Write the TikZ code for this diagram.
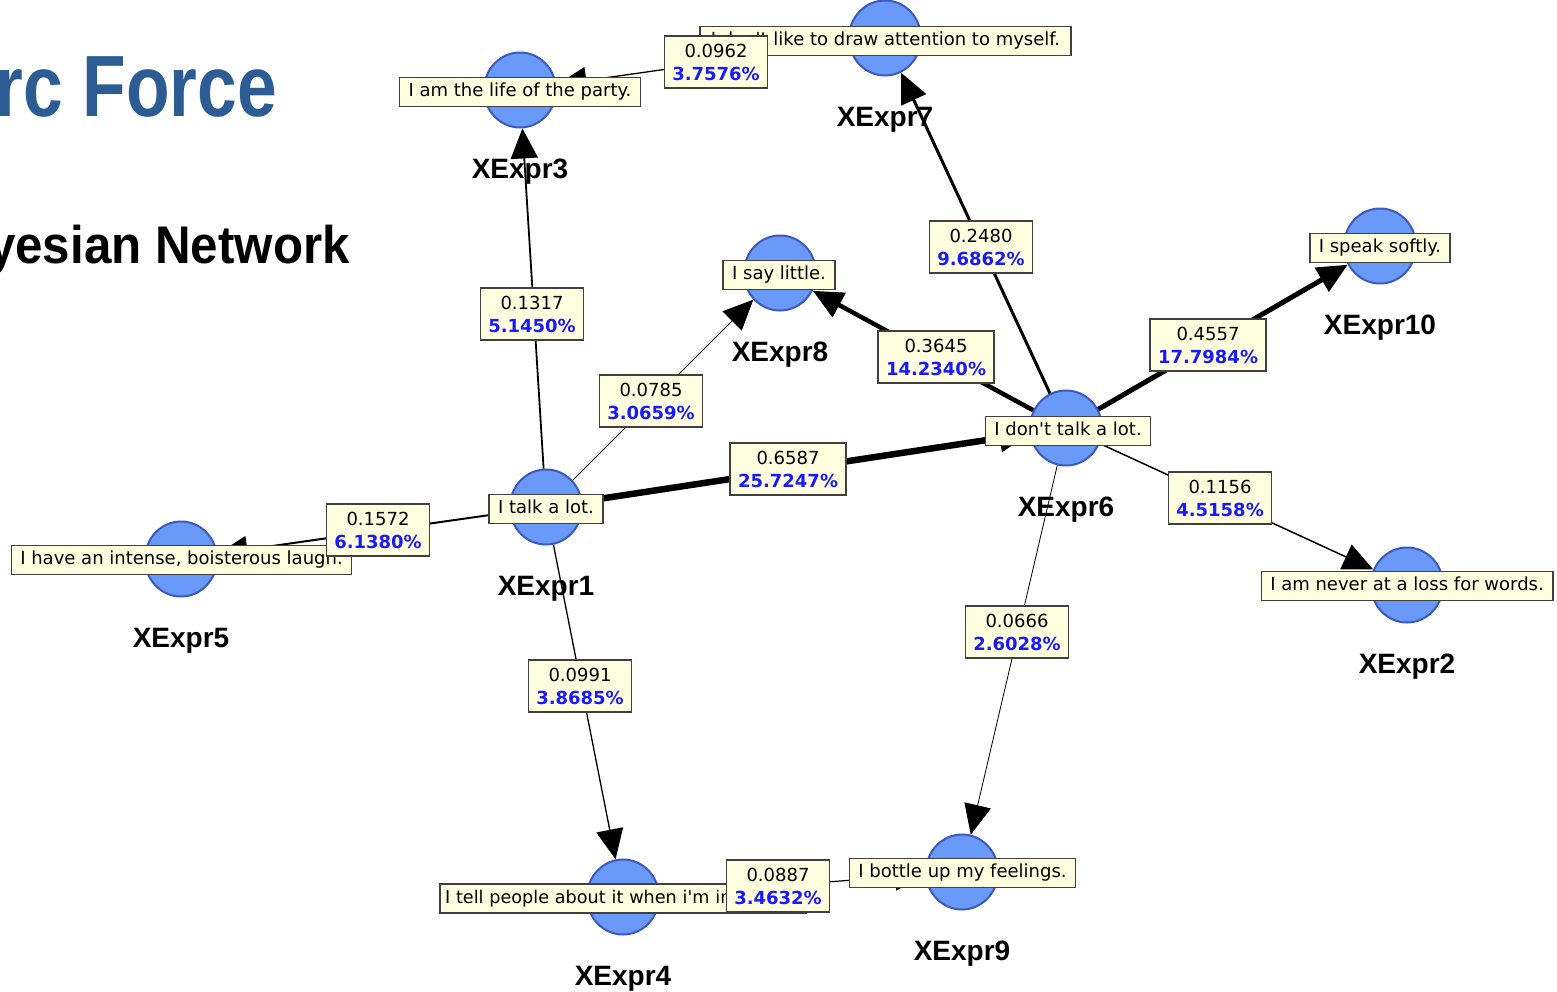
\documentclass[tikz,border=0pt]{standalone}
\usepackage{fontspec}
\usetikzlibrary{shapes.geometric,arrows.meta}

\newfontfamily\boxfont{DejaVu Sans}
\newfontfamily\capfont{Liberation Sans}
\newfontfamily\headfont[FakeStretch=0.82]{Liberation Sans}
\newfontfamily\subheadfont[FakeStretch=0.93]{Liberation Sans}

\definecolor{nodefill}{RGB}{105,153,249}
\definecolor{nodeedge}{RGB}{60,90,190}
\definecolor{boxfill}{RGB}{255,255,224}
\definecolor{boxedge}{RGB}{64,64,64}
\definecolor{pctblue}{RGB}{25,25,255}
\definecolor{titleblue}{RGB}{44,92,148}

\newcommand\pctval[1]{{\color{pctblue}\bfseries #1}}

\pgfdeclarelayer{captions}
\pgfdeclarelayer{boxes}
\pgfdeclarelayer{weights}
\pgfsetlayers{captions,main,boxes,weights}

\begin{document}
\begin{tikzpicture}[x=1pt,y=-1pt,
  bnode/.style={ellipse, draw=nodeedge, line width=2pt, fill=nodefill,
    minimum width=72pt, minimum height=75pt, inner sep=0pt},
  caption/.style={font=\capfont\bfseries\fontsize{28}{32}\selectfont, anchor=base},
  itembox/.style={draw=boxedge, line width=1.5pt, fill=boxfill,
    font=\boxfont\fontsize{18}{21}\selectfont, inner xsep=9pt, inner ysep=0pt,
    minimum height=29pt, text height=13.5pt, text depth=4pt},
  weightbox/.style={draw=boxedge, line width=1.5pt, fill=boxfill,
    font=\boxfont\fontsize{18}{23}\selectfont, align=center,
    inner xsep=5pt, inner ysep=5pt, minimum height=52pt, minimum width=103pt},
  link/.style={draw=black, -{Triangle[length=30pt,width=27pt]}}
]
\useasboundingbox (0,0) rectangle (1557,991);
\clip (0,0) rectangle (1557,991);

% slide headings, cut by the left edge
\node[font=\headfont\bfseries\fontsize{87}{90}\selectfont, text=titleblue,
  anchor=base east, inner sep=0pt] (head) at (277,116) {rc Force};
\node[font=\subheadfont\bfseries\fontsize{53}{56}\selectfont, text=black,
  anchor=base east, inner sep=0pt] (subhead) at (350,263) {yesian Network};

% network variables
\node[bnode] (n1)  at (546,507) {};
\node[bnode] (n2)  at (1407,585) {};
\node[bnode] (n3)  at (520,90) {};
\node[bnode] (n4)  at (623,897) {};
\node[bnode] (n5)  at (181,559) {};
\node[bnode] (n6)  at (1066,428) {};
\node[bnode] (n7)  at (885,38) {};
\node[bnode] (n8)  at (780,273) {};
\node[bnode] (n9)  at (962,872) {};
\node[bnode] (n10) at (1380,246) {};

% variable names under the nodes
\begin{pgfonlayer}{captions}
\node[caption] (c1)  at (546,595) {XExpr1};
\node[caption] (c2)  at (1407,673) {XExpr2};
\node[caption] (c3)  at (520,178) {XExpr3};
\node[caption] (c4)  at (623,985) {XExpr4};
\node[caption] (c5)  at (181,647) {XExpr5};
\node[caption] (c6)  at (1066,516) {XExpr6};
\node[caption] (c7)  at (885,126) {XExpr7};
\node[caption] (c8)  at (780,361) {XExpr8};
\node[caption] (c9)  at (962,960) {XExpr9};
\node[caption] (c10) at (1380,334) {XExpr10};
\end{pgfonlayer}

% dependencies, width by strength
\draw[link, line width=1.8pt] (n1) -- (n3);
\draw[link, line width=1pt]   (n1) -- (n8);
\draw[link, line width=6.5pt] (n1) -- (n6);
\draw[link, line width=2pt]   (n1) -- (n5);
\draw[link, line width=1.3pt] (n1) -- (n4);
\draw[link, line width=1.3pt] (n7) -- (n3);
\draw[link, line width=3pt]   (n6) -- (n7);
\draw[link, line width=4.5pt] (n6) -- (n8);
\draw[link, line width=5pt]   (n6) -- (n10);
\draw[link, line width=1.5pt] (n6) -- (n2);
\draw[link, line width=0.8pt] (n6) -- (n9);
\draw[link, line width=1.2pt] (n4) -- (n9);

% questionnaire items
\begin{pgfonlayer}{boxes}
\node[itembox] (t1)  at (546,509) {I talk a lot.};
\node[itembox] (t2)  at (1407,586) {I am never at a loss for words.};
\node[itembox] (t3)  at (520,92) {I am the life of the party.};
\node[itembox, font=\boxfont\fontsize{17.6}{21}\selectfont, inner xsep=5pt,
  text width=356pt, align=left] (t4) at (623,898.5) {I tell people about it when i'm in};
\node[itembox] (t5)  at (181.5,560) {I have an intense, boisterous laugh.};
\node[itembox] (t6)  at (1068,431) {I don't talk a lot.};
\node[itembox, minimum width=371pt] (t7) at (885.5,41) {I don't like to draw attention to myself.};
\node[itembox] (t8)  at (779,275) {I say little.};
\node[itembox] (t9)  at (962.5,873) {I bottle up my feelings.};
\node[itembox] (t10) at (1380,248) {I speak softly.};
\end{pgfonlayer}

% edge weights
\begin{pgfonlayer}{weights}
\node[weightbox] (w73)  at (716,62)   {0.0962\\\pctval{3.7576\%}};
\node[weightbox] (w13)  at (532,314)  {0.1317\\\pctval{5.1450\%}};
\node[weightbox] (w18)  at (651,401)  {0.0785\\\pctval{3.0659\%}};
\node[weightbox, minimum width=116pt] (w68)  at (936,357)  {0.3645\\\pctval{14.2340\%}};
\node[weightbox] (w67)  at (981,247)  {0.2480\\\pctval{9.6862\%}};
\node[weightbox, minimum width=116pt] (w610) at (1208,345) {0.4557\\\pctval{17.7984\%}};
\node[weightbox, minimum width=116pt] (w16)  at (788,469)  {0.6587\\\pctval{25.7247\%}};
\node[weightbox] (w62)  at (1220,498) {0.1156\\\pctval{4.5158\%}};
\node[weightbox] (w15)  at (378,530)  {0.1572\\\pctval{6.1380\%}};
\node[weightbox] (w14)  at (580,686)  {0.0991\\\pctval{3.8685\%}};
\node[weightbox] (w69)  at (1017,632) {0.0666\\\pctval{2.6028\%}};
\node[weightbox] (w49)  at (778,886)  {0.0887\\\pctval{3.4632\%}};
\end{pgfonlayer}
\end{tikzpicture}
\end{document}
